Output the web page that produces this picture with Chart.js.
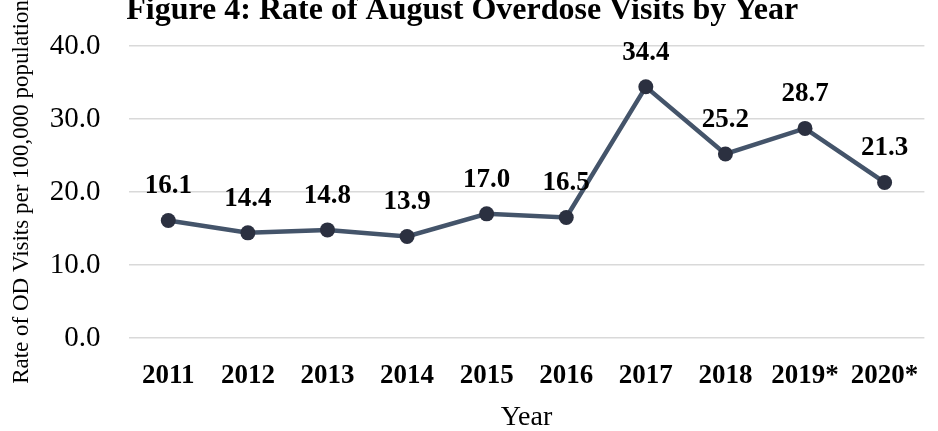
<!DOCTYPE html>
<html>
<head>
<meta charset="utf-8">
<script src="https://cdn.jsdelivr.net/npm/chart.js@4/dist/chart.umd.min.js"></script>
<style>
    html, body {margin: 0; padding: 0; background: #fff;}
    #wrap {width: 938px; height: 431px; overflow: hidden; position: relative;}
    #chart {position: absolute; left: 0; top: -11px;}
</style>
</head>
<body>
<div id="wrap"><canvas id="chart" width="938" height="450"></canvas></div>
<script>
const years = ["2011", "2012", "2013", "2014", "2015", "2016", "2017", "2018", "2019*", "2020*"];
const rates = [16.1, 14.4, 14.8, 13.9, 17.0, 16.5, 34.4, 25.2, 28.7, 21.3];
const yTicks = [0, 10, 20, 30, 40];

const serif = "'Liberation Serif', 'Times New Roman', serif";

// labels above each point, like the Excel data labels
let pointLabelsPlugin = {
    id: "pointLabels",
    afterDatasetsDraw: (chart, args, opts) => {
        const {ctx} = chart;
        ctx.save();
        ctx.font = "bold 27px " + serif;
        ctx.fillStyle = "#000";
        ctx.textAlign = "center";
        ctx.textBaseline = "middle";
        chart.getDatasetMeta(0).data.forEach((pt, i) => {
            ctx.fillText(rates[i].toFixed(1), pt.x, pt.y - opts.offset);
        });
        ctx.restore();
    }
}

let scalesOptions = {
    x: {
        offset: true,
        grid: {display: false},
        border: {display: false},
        ticks: {
            color: "#000",
            padding: 13.5,
            maxRotation: 0,
            autoSkip: false,
            font: {family: serif, size: 27, weight: "bold"}
        },
        title: {
            display: true,
            text: "Year",
            color: "#000",
            padding: {top: 0, bottom: 5},
            font: {family: serif, size: 28}
        },
        afterFit: (scale) => {
            scale.height = 101;
        }
    },
    y: {
        min: 0,
        max: 40,
        border: {display: false},
        grid: {color: "#d9d9d9", lineWidth: 1.5, drawTicks: false},
        afterBuildTicks: (scale) => {
            scale.ticks = yTicks.map(v => ({value: v}));
        },
        ticks: {
            color: "#000",
            padding: 28,
            font: {family: serif, size: 29},
            callback: (value) => value.toFixed(1)
        },
        title: {
            display: true,
            text: "Rate of OD Visits per 100,000 population",
            color: "#000",
            padding: {top: 8, bottom: 0},
            font: {family: serif, size: 23}
        },
        afterFit: (scale) => {
            scale.width = 128.5;
        }
    }
}

new Chart(document.getElementById("chart"), {
    type: "line",
    data: {
        labels: years,
        datasets: [{
            data: rates,
            borderColor: "#44546a",
            borderWidth: 4.5,
            pointRadius: 7.5,
            pointBackgroundColor: "#2b3040",
            pointBorderColor: "#2b3040",
            pointBorderWidth: 0,
            tension: 0
        }]
    },
    options: {
        responsive: false,
        animation: false,
        layout: {padding: {left: 0, right: 13.6, top: 0, bottom: 0}},
        plugins: {
            legend: {display: false},
            tooltip: {enabled: false},
            title: {
                display: true,
                text: "Figure 4: Rate of August Overdose Visits by Year",
                color: "#000",
                padding: {top: 2.5, bottom: 16},
                font: {family: serif, size: 32, weight: "bold"}
            },
            pointLabels: {offset: 34}
        },
        scales: scalesOptions
    },
    plugins: [pointLabelsPlugin]
});
</script>
</body>
</html>
